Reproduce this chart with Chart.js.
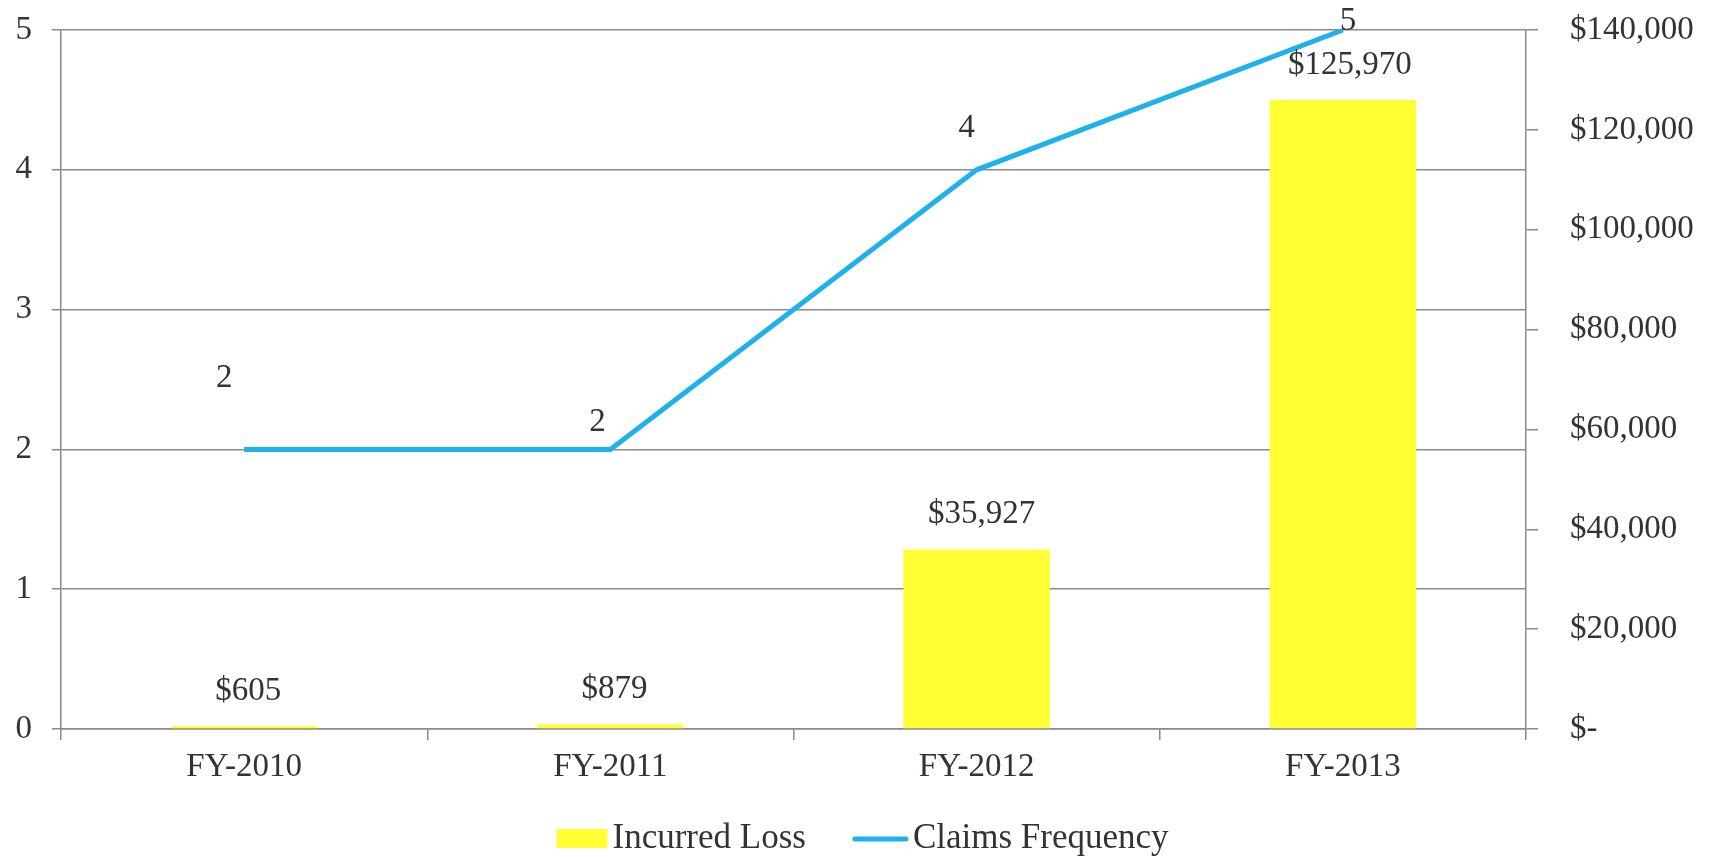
<!DOCTYPE html>
<html>
<head>
<meta charset="utf-8">
<script src="https://cdn.jsdelivr.net/npm/chart.js@4/dist/chart.umd.min.js"></script>
<style>
  html, body { margin: 0; padding: 0; background: #fff; }
  #wrap { width: 1711px; height: 857px; position: relative; }
</style>
</head>
<body>
<div id="wrap"><canvas id="lossChart"></canvas></div>
<script>
const fiscalYears = ["FY-2010", "FY-2011", "FY-2012", "FY-2013"];
const incurredLoss = [605, 879, 35927, 125970];
const claimsFrequency = [2, 2, 4, 5];
const seriesNames = ["Incurred Loss", "Claims Frequency"];
const countTicks = [0, 1, 2, 3, 4, 5];
const moneyTicks = [0, 20000, 40000, 60000, 80000, 100000, 120000, 140000];

// label nudges (px), the original labels were moved by hand
const barLabelShift = [4, 4, 5, 7];
const lineLabelShift = [[-20, -71], [-13, -27], [-10, -41], [5, -9]];

const textColor = "#333";
const axisColor = "#8a8a8a";
const serif = "'Liberation Serif', 'Times New Roman', serif";

Chart.defaults.font.family = serif;
Chart.defaults.color = textColor;

function money(v) {
  return v === 0 ? "$-" : "$" + v.toLocaleString("en-US");
}

// draws the numbers above the bars and the line points
const valueLabels = {
  id: "valueLabels",
  afterDatasetsDraw(chart) {
    const ctx = chart.ctx;
    ctx.save();
    ctx.font = "33px " + serif;
    ctx.fillStyle = textColor;
    ctx.textAlign = "center";
    ctx.textBaseline = "middle";
    chart.getDatasetMeta(0).data.forEach((bar, i) => {
      ctx.fillText(money(incurredLoss[i]), bar.x + barLabelShift[i], bar.y - 35);
    });
    chart.getDatasetMeta(1).data.forEach((pt, i) => {
      const [dx, dy] = lineLabelShift[i];
      ctx.fillText(String(claimsFrequency[i]), pt.x + dx, pt.y + dy);
    });
    ctx.restore();
  },
};

// legend under the axis, box for bars and a short line for the line series
const bottomLegend = {
  id: "bottomLegend",
  afterDraw(chart) {
    const ctx = chart.ctx;
    const bars = chart.data.datasets[0];
    const line = chart.data.datasets[1];
    ctx.save();
    ctx.font = "35px " + serif;
    ctx.textBaseline = "middle";
    ctx.textAlign = "left";
    const w0 = ctx.measureText(bars.label).width;
    const w1 = ctx.measureText(line.label).width;
    const total = 51 + 5 + w0 + 47 + 55 + 5 + w1;
    let x = chart.width / 2 + 7 - total / 2;
    const y = chart.height - 18;

    ctx.fillStyle = bars.backgroundColor;
    ctx.fillRect(x, y - 10, 51, 19);
    x += 56;
    ctx.fillStyle = textColor;
    ctx.fillText(bars.label, x, y);
    x += w0 + 47;

    ctx.strokeStyle = line.borderColor;
    ctx.lineWidth = 5;
    ctx.lineCap = "round";
    ctx.beginPath();
    ctx.moveTo(x + 2, y);
    ctx.lineTo(x + 53, y);
    ctx.stroke();
    x += 60;
    ctx.fillText(line.label, x, y);
    ctx.restore();
  },
};

// fixed axis sizes; drop the label overhang so the plot top sits at the layout padding
function fixSideAxis(width) {
  return (scale) => {
    scale.width = width;
    scale.paddingTop = 0;
    scale.paddingBottom = 0;
  };
}

const ctx = document.getElementById("lossChart");

new Chart(ctx, {
  type: "bar",
  data: {
    labels: fiscalYears,
    datasets: [
      {
        label: seriesNames[0],
        data: incurredLoss,
        yAxisID: "yMoney",
        backgroundColor: "#ffff33",
        categoryPercentage: 1,
        barPercentage: 0.4,
        order: 1,
      },
      {
        type: "line",
        label: seriesNames[1],
        data: claimsFrequency,
        yAxisID: "yCount",
        borderColor: "#1fb1ea",
        borderWidth: 5,
        pointRadius: 0,
        tension: 0,
        order: 0,
      },
    ],
  },
  options: {
    responsive: true,
    maintainAspectRatio: false,
    animation: false,
    layout: { padding: { top: 30, left: 0, right: 0, bottom: 66 } },
    plugins: {
      legend: { display: false },
      tooltip: { enabled: false },
    },
    scales: {
      x: {
        grid: {
          display: true,
          drawOnChartArea: false,
          tickLength: 11,
          color: axisColor,
          lineWidth: 1.5,
        },
        border: { color: axisColor, width: 1.5 },
        ticks: { font: { size: 33 }, color: textColor, padding: 8 },
        afterFit: (scale) => {
          scale.height = 62;
        },
      },
      yCount: {
        position: "left",
        min: 0,
        max: 5,
        afterBuildTicks: (scale) => {
          scale.ticks = countTicks.map((v) => ({ value: v }));
        },
        grid: { color: axisColor, lineWidth: 1.5, tickLength: 9 },
        border: { color: axisColor, width: 1.5 },
        ticks: { font: { size: 33 }, color: textColor, padding: 20 },
        afterFit: fixSideAxis(61),
      },
      yMoney: {
        position: "right",
        min: 0,
        max: 140000,
        afterBuildTicks: (scale) => {
          scale.ticks = moneyTicks.map((v) => ({ value: v }));
        },
        grid: {
          drawOnChartArea: false,
          color: axisColor,
          lineWidth: 1.5,
          tickLength: 12,
        },
        border: { color: axisColor, width: 1.5 },
        ticks: {
          font: { size: 33 },
          color: textColor,
          padding: 32,
          callback: (v) => money(v),
        },
        afterFit: fixSideAxis(185),
      },
    },
  },
  plugins: [valueLabels, bottomLegend],
});
</script>
</body>
</html>
